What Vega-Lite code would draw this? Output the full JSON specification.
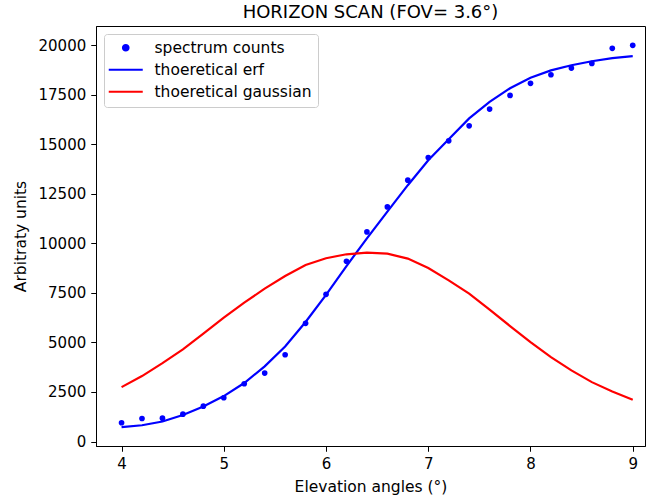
{
  "$schema": "https://vega.github.io/schema/vega-lite/v6.json",
  "width": 549,
  "height": 420,
  "autosize": {"type": "none"},
  "padding": {"left": 96, "top": 26, "right": 3, "bottom": 53},
  "title": {"text": "HORIZON SCAN (FOV= 3.6°)", "font": "DejaVu Sans", "fontSize": 18, "fontWeight": "normal", "color": "black", "anchor": "middle", "frame": "group", "offset": 4, "baseline": "bottom", "dy": 17.5},
  "data": {"values": [
    {"angle": 4.0, "value": 944, "series": "spectrum counts"},
    {"angle": 4.2, "value": 1162, "series": "spectrum counts"},
    {"angle": 4.4, "value": 1177, "series": "spectrum counts"},
    {"angle": 4.6, "value": 1380, "series": "spectrum counts"},
    {"angle": 4.8, "value": 1783, "series": "spectrum counts"},
    {"angle": 5.0, "value": 2205, "series": "spectrum counts"},
    {"angle": 5.2, "value": 2912, "series": "spectrum counts"},
    {"angle": 5.4, "value": 3450, "series": "spectrum counts"},
    {"angle": 5.6, "value": 4377, "series": "spectrum counts"},
    {"angle": 5.8, "value": 5960, "series": "spectrum counts"},
    {"angle": 6.0, "value": 7424, "series": "spectrum counts"},
    {"angle": 6.2, "value": 9091, "series": "spectrum counts"},
    {"angle": 6.4, "value": 10572, "series": "spectrum counts"},
    {"angle": 6.6, "value": 11833, "series": "spectrum counts"},
    {"angle": 6.8, "value": 13182, "series": "spectrum counts"},
    {"angle": 7.0, "value": 14328, "series": "spectrum counts"},
    {"angle": 7.2, "value": 15167, "series": "spectrum counts"},
    {"angle": 7.4, "value": 15924, "series": "spectrum counts"},
    {"angle": 7.6, "value": 16768, "series": "spectrum counts"},
    {"angle": 7.8, "value": 17460, "series": "spectrum counts"},
    {"angle": 8.0, "value": 18066, "series": "spectrum counts"},
    {"angle": 8.2, "value": 18500, "series": "spectrum counts"},
    {"angle": 8.4, "value": 18838, "series": "spectrum counts"},
    {"angle": 8.6, "value": 19074, "series": "spectrum counts"},
    {"angle": 8.8, "value": 19832, "series": "spectrum counts"},
    {"angle": 9.0, "value": 19985, "series": "spectrum counts"},
    {"angle": 4.0, "value": 722, "series": "thoeretical erf"},
    {"angle": 4.2, "value": 820, "series": "thoeretical erf"},
    {"angle": 4.4, "value": 1010, "series": "thoeretical erf"},
    {"angle": 4.6, "value": 1340, "series": "thoeretical erf"},
    {"angle": 4.8, "value": 1770, "series": "thoeretical erf"},
    {"angle": 5.0, "value": 2290, "series": "thoeretical erf"},
    {"angle": 5.2, "value": 2950, "series": "thoeretical erf"},
    {"angle": 5.4, "value": 3790, "series": "thoeretical erf"},
    {"angle": 5.6, "value": 4790, "series": "thoeretical erf"},
    {"angle": 5.8, "value": 6030, "series": "thoeretical erf"},
    {"angle": 6.0, "value": 7400, "series": "thoeretical erf"},
    {"angle": 6.2, "value": 8850, "series": "thoeretical erf"},
    {"angle": 6.4, "value": 10250, "series": "thoeretical erf"},
    {"angle": 6.6, "value": 11600, "series": "thoeretical erf"},
    {"angle": 6.8, "value": 12930, "series": "thoeretical erf"},
    {"angle": 7.0, "value": 14190, "series": "thoeretical erf"},
    {"angle": 7.2, "value": 15250, "series": "thoeretical erf"},
    {"angle": 7.4, "value": 16300, "series": "thoeretical erf"},
    {"angle": 7.6, "value": 17130, "series": "thoeretical erf"},
    {"angle": 7.8, "value": 17820, "series": "thoeretical erf"},
    {"angle": 8.0, "value": 18350, "series": "thoeretical erf"},
    {"angle": 8.2, "value": 18720, "series": "thoeretical erf"},
    {"angle": 8.4, "value": 18980, "series": "thoeretical erf"},
    {"angle": 8.6, "value": 19180, "series": "thoeretical erf"},
    {"angle": 8.8, "value": 19340, "series": "thoeretical erf"},
    {"angle": 9.0, "value": 19440, "series": "thoeretical erf"},
    {"angle": 4.0, "value": 2742, "series": "thoeretical gaussian"},
    {"angle": 4.2, "value": 3300, "series": "thoeretical gaussian"},
    {"angle": 4.4, "value": 3955, "series": "thoeretical gaussian"},
    {"angle": 4.6, "value": 4646, "series": "thoeretical gaussian"},
    {"angle": 4.8, "value": 5438, "series": "thoeretical gaussian"},
    {"angle": 5.0, "value": 6245, "series": "thoeretical gaussian"},
    {"angle": 5.2, "value": 7003, "series": "thoeretical gaussian"},
    {"angle": 5.4, "value": 7710, "series": "thoeretical gaussian"},
    {"angle": 5.6, "value": 8350, "series": "thoeretical gaussian"},
    {"angle": 5.8, "value": 8906, "series": "thoeretical gaussian"},
    {"angle": 6.0, "value": 9242, "series": "thoeretical gaussian"},
    {"angle": 6.2, "value": 9444, "series": "thoeretical gaussian"},
    {"angle": 6.4, "value": 9529, "series": "thoeretical gaussian"},
    {"angle": 6.6, "value": 9478, "series": "thoeretical gaussian"},
    {"angle": 6.8, "value": 9226, "series": "thoeretical gaussian"},
    {"angle": 7.0, "value": 8754, "series": "thoeretical gaussian"},
    {"angle": 7.2, "value": 8131, "series": "thoeretical gaussian"},
    {"angle": 7.4, "value": 7458, "series": "thoeretical gaussian"},
    {"angle": 7.6, "value": 6650, "series": "thoeretical gaussian"},
    {"angle": 7.8, "value": 5825, "series": "thoeretical gaussian"},
    {"angle": 8.0, "value": 5017, "series": "thoeretical gaussian"},
    {"angle": 8.2, "value": 4258, "series": "thoeretical gaussian"},
    {"angle": 8.4, "value": 3586, "series": "thoeretical gaussian"},
    {"angle": 8.6, "value": 2995, "series": "thoeretical gaussian"},
    {"angle": 8.8, "value": 2525, "series": "thoeretical gaussian"},
    {"angle": 9.0, "value": 2106, "series": "thoeretical gaussian"}
  ]},
  "encoding": {
    "x": {"field": "angle", "type": "quantitative",
      "scale": {"domain": [3.75, 9.12], "nice": false, "zero": false},
      "axis": {"title": "Elevation angles (°)", "values": [4, 5, 6, 7, 8, 9], "format": "d"}},
    "y": {"field": "value", "type": "quantitative",
      "scale": {"domain": [-227, 20960], "nice": false, "zero": false},
      "axis": {"title": "Arbitraty units", "values": [0, 2500, 5000, 7500, 10000, 12500, 15000, 17500, 20000], "format": "d"}},
    "color": {"field": "series", "type": "nominal",
      "scale": {"domain": ["spectrum counts", "thoeretical erf", "thoeretical gaussian"], "range": ["#0000ff", "#0000ff", "#ff0000"]},
      "legend": {
        "orient": "none", "legendX": 8, "legendY": 8, "title": null,
        "symbolSize": 100, "symbolStrokeWidth": 2, "symbolOpacity": 1, "symbolOffset": 8,
        "labelFont": "DejaVu Sans", "labelFontSize": 15.5, "labelColor": "black",
        "labelOffset": 21, "padding": 6, "rowPadding": 5,
        "strokeColor": "#cccccc", "fillColor": "white", "cornerRadius": 3,
        "encode": {"symbols": {"update": {
          "shape": {"signal": "datum.value === 'spectrum counts' ? 'circle' : 'M-3.4,0H3.4'"},
          "size": {"signal": "datum.value === 'spectrum counts' ? 30 : 100"},
          "fill": {"signal": "datum.value === 'spectrum counts' ? '#0000ff' : 'transparent'"},
          "stroke": {"signal": "datum.value === 'spectrum counts' ? 'transparent' : (datum.value === 'thoeretical erf' ? '#0000ff' : '#ff0000')"},
          "strokeWidth": {"value": 2.2},
          "opacity": {"value": 1}
        }}}
      }}
  },
  "layer": [
    {"transform": [{"filter": "datum.series !== 'spectrum counts'"}],
     "mark": {"type": "line", "strokeWidth": 2.2, "clip": true}},
    {"transform": [{"filter": "datum.series === 'spectrum counts'"}],
     "mark": {"type": "point", "filled": true, "size": 32, "opacity": 1, "clip": true}}
  ],
  "config": {
    "font": "DejaVu Sans",
    "view": {"stroke": "black", "strokeWidth": 1},
    "axis": {
      "grid": false, "domainColor": "black", "domainWidth": 1,
      "tickColor": "black", "tickSize": 5.25, "tickWidth": 1,
      "labelFont": "DejaVu Sans", "labelFontSize": 15, "labelColor": "black", "labelPadding": 5,
      "titleFont": "DejaVu Sans", "titleFontSize": 15.5, "titleFontWeight": "normal", "titleColor": "black"
    },
    "axisX": {"titlePadding": 8},
    "axisY": {"titlePadding": 10}
  }
}
